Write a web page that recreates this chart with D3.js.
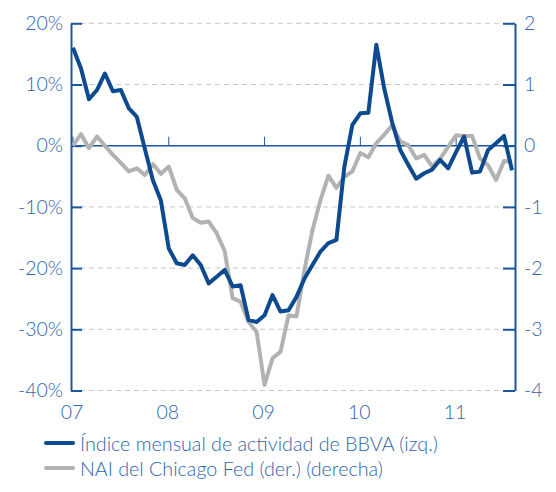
<!DOCTYPE html>
<html>
<head>
<meta charset="utf-8">
<script src="https://cdn.jsdelivr.net/npm/d3@7"></script>
<style>
  body { margin: 0; background: #fff; }
  text { font-family: Lato, "Open Sans", sans-serif; font-weight: 300; fill: #2f65ab; }
</style>
</head>
<body>
<div id="chart"></div>
<script>
// monthly values, Jan 2007 - Aug 2011
let bbva = [16.0, 12.6, 7.6, 9.1, 11.8, 8.9, 9.1, 6.1, 4.7, -0.5, -5.6, -8.9,
    -16.8, -19.2, -19.5, -17.9, -19.5, -22.5, -21.4, -20.3, -23.0, -22.8, -28.5, -28.8,
    -27.7, -24.4, -27.1, -26.9, -24.7, -21.7, -19.5, -17.3, -15.9, -15.4, -3.4, 3.4,
    5.3, 5.4, 16.5, 9.3, 3.7, -0.7, -3.1, -5.4, -4.5, -3.9, -2.3, -3.7,
    -1.0, 1.5, -4.4, -4.2, -0.7, 0.4, 1.6, -4.0]
let nai = [0.0, 0.19, -0.04, 0.15, 0.0, -0.15, -0.28, -0.42, -0.37, -0.48, -0.30, -0.46,
    -0.34, -0.72, -0.86, -1.18, -1.26, -1.24, -1.43, -1.72, -2.49, -2.55, -2.88, -3.04,
    -3.91, -3.47, -3.37, -2.77, -2.79, -2.03, -1.38, -0.89, -0.49, -0.69, -0.51, -0.42,
    -0.12, -0.19, 0.04, 0.18, 0.34, 0.07, 0.01, -0.21, -0.15, -0.34, -0.21, -0.02,
    0.17, 0.16, 0.16, -0.21, -0.32, -0.56, -0.25, -0.26]
let yearLabels = ["07", "08", "09", "10", "11"]
let leftTicks = [20, 10, 0, -10, -20, -30, -40]
let rightTicks = [2, 1, 0, -1, -2, -3, -4]
let legendLabels = ["Índice mensual de actividad de BBVA (izq.)", "NAI del Chicago Fed (der.) (derecha)"]

let width = 556,
    height = 492
let plotLeft = 71, plotRight = 515, plotTop = 23.3, plotBottom = 390.5
let blue = "#0d4a8f", grey = "#b2b2b2", axisBlue = "#1d569e"

let svg = d3.select("#chart").append("svg")
    .attr("width", width)
    .attr("height", height)

let xScale = d3.scaleLinear()
    .domain([0, bbva.length - 1])
    .range([73, 512])
let yLeft = d3.scaleLinear().domain([-40, 20]).range([plotBottom, plotTop])
let yRight = d3.scaleLinear().domain([-4, 2]).range([plotBottom, plotTop])

// dashed gridlines
svg.selectAll(".grid")
    .data(leftTicks.filter(function(d) { return d != 0; }))
    .enter()
    .append("line")
    .attr("class", "grid")
    .attr("x1", plotLeft).attr("x2", plotRight)
    .attr("y1", function(d) { return yLeft(d); })
    .attr("y2", function(d) { return yLeft(d); })
    .attr("stroke", "#c8c8c8")
    .attr("stroke-width", 1)
    .attr("stroke-dasharray", "5,4")

// zero line + year ticks
svg.append("line")
    .attr("x1", plotLeft).attr("x2", plotRight)
    .attr("y1", yLeft(0)).attr("y2", yLeft(0))
    .attr("stroke", axisBlue).attr("stroke-width", 1.6)
svg.selectAll(".yeartick")
    .data(yearLabels)
    .enter()
    .append("line")
    .attr("class", "yeartick")
    .attr("x1", function(d, i) { return xScale(i * 12); })
    .attr("x2", function(d, i) { return xScale(i * 12); })
    .attr("y1", yLeft(0)).attr("y2", yLeft(0) - 9)
    .attr("stroke", axisBlue).attr("stroke-width", 1)

// axes
let axisL = svg.append("g")
    .attr("transform", "translate(" + plotLeft + ",0)")
    .call(d3.axisLeft(yLeft).tickValues(leftTicks).tickSize(-11).tickSizeOuter(0).tickPadding(8)
        .tickFormat(function(d) { return d + "%"; }))
let axisR = svg.append("g")
    .attr("transform", "translate(" + plotRight + ",0)")
    .call(d3.axisRight(yRight).tickValues(rightTicks).tickSize(-12).tickSizeOuter(0).tickPadding(9)
        .tickFormat(function(d) { return String(d); }))
svg.selectAll(".domain, .tick line")
    .attr("stroke", axisBlue)
    .attr("stroke-width", 2)
svg.selectAll(".tick text")
    .attr("fill", "#2f65ab")
    .style("font-size", "19.5px")
    .style("font-family", "Lato, 'Open Sans', sans-serif")
    .style("font-weight", 300)

// year labels
svg.selectAll(".year")
    .data(yearLabels)
    .enter()
    .append("text")
    .attr("class", "year")
    .attr("x", function(d, i) { return xScale(i * 12) - 1; })
    .attr("y", 411)
    .attr("text-anchor", "middle")
    .attr("dominant-baseline", "central")
    .style("font-size", "19.5px")
    .text(function(d) { return d; })

// lines
let naiLine = d3.line()
    .x(function(d, i) { return xScale(i); })
    .y(function(d) { return yRight(d); })
let bbvaLine = d3.line()
    .x(function(d, i) { return xScale(i); })
    .y(function(d) { return yLeft(d); })
svg.append("path")
    .datum(nai)
    .attr("d", naiLine)
    .attr("fill", "none")
    .attr("stroke", grey)
    .attr("stroke-width", 4)
    .attr("stroke-linejoin", "round")
svg.append("path")
    .datum(bbva)
    .attr("d", bbvaLine)
    .attr("fill", "none")
    .attr("stroke", blue)
    .attr("stroke-width", 4)
    .attr("stroke-linejoin", "round")

// legend
let legend = svg.selectAll(".legend")
    .data(legendLabels)
    .enter()
    .append("g")
    .attr("class", "legend")
    .attr("transform", function(d, i) { return "translate(45," + (443 + i * 25) + ")"; })
legend.append("line")
    .attr("x1", 1).attr("x2", 28)
    .attr("stroke", function(d, i) { return i == 0 ? blue : grey; })
    .attr("stroke-width", 4)
    .attr("stroke-linecap", "round")
legend.append("text")
    .attr("x", 35)
    .attr("dominant-baseline", "central")
    .style("font-size", "19.7px")
    .text(function(d) { return d; })
</script>
</body>
</html>
